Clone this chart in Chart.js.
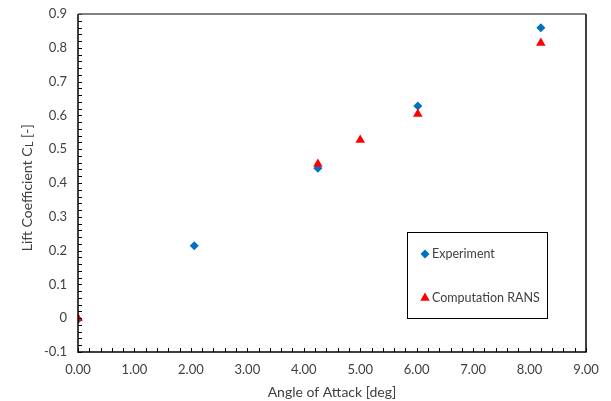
<!DOCTYPE html>
<html>
<head>
<meta charset="utf-8">
<script src="https://cdn.jsdelivr.net/npm/chart.js@4/dist/chart.umd.min.js"></script>
<style>
  html, body { margin: 0; padding: 0; background: #fff; }
  #wrap { width: 611px; height: 401px; }
</style>
</head>
<body>
<div id="wrap"><canvas id="myChart"></canvas></div>
<script>
// data
const expAlpha = [0.00, 2.06, 4.25, 6.02, 8.20];
const expCL = [-0.004, 0.214, 0.444, 0.628, 0.859];
const ransAlpha = [0.00, 4.25, 5.00, 6.02, 8.20];
const ransCL = [0.000, 0.456, 0.527, 0.604, 0.814];

const xTicks = [0, 1, 2, 3, 4, 5, 6, 7, 8, 9];
const xTickLabels = ["0.00", "1.00", "2.00", "3.00", "4.00", "5.00", "6.00", "7.00", "8.00", "9.00"];
const yTicks = [-0.1, 0, 0.1, 0.2, 0.3, 0.4, 0.5, 0.6, 0.7, 0.8, 0.9];
const yTickLabels = ["-0.1", "0", "0.1", "0.2", "0.3", "0.4", "0.5", "0.6", "0.7", "0.8", "0.9"];

const seriesNames = ["Experiment", "Computation RANS"];

const FONT = "Lato, 'Open Sans', sans-serif";
const TXT = "#404040";

const toPoints = (xs, ys) => xs.map((x, i) => ({ x: x, y: ys[i] }));

// box round the plot + inward minor ticks (excel style)
const frame = {
  id: "frame",
  afterDraw(chart) {
    const { ctx, chartArea: a, scales } = chart;
    ctx.save();
    ctx.strokeStyle = "#000";
    ctx.lineWidth = 1;
    // minor ticks
    ctx.beginPath();
    for (let v = -0.1; v <= 0.9001; v += 0.02) {
      const py = Math.round(scales.y.getPixelForValue(v)) + 0.5;
      ctx.moveTo(a.left, py);
      ctx.lineTo(a.left + 4, py);
    }
    for (let v = 0; v <= 9.001; v += 0.2) {
      const px = Math.round(scales.x.getPixelForValue(v)) + 0.5;
      ctx.moveTo(px, a.bottom);
      ctx.lineTo(px, a.bottom - 4);
    }
    ctx.stroke();
    // box
    ctx.lineWidth = 1.5;
    ctx.strokeStyle = "#000";
    ctx.beginPath();
    ctx.moveTo(a.left, a.top);
    ctx.lineTo(a.left, a.bottom);
    ctx.lineTo(a.right, a.bottom);
    ctx.lineTo(a.right, a.top);
    ctx.stroke();
    ctx.strokeStyle = "#595959";
    ctx.beginPath();
    ctx.moveTo(a.left, a.top);
    ctx.lineTo(a.right, a.top);
    ctx.stroke();

    // y title with subscript L
    ctx.fillStyle = TXT;
    ctx.translate(32, 188);
    ctx.rotate(-Math.PI / 2);
    ctx.textBaseline = "alphabetic";
    const big = "14px " + FONT, small = "10.5px " + FONT;
    const p1 = "Lift Coefficient C", p2 = "L", p3 = " [-]";
    ctx.font = big;
    const w1 = ctx.measureText(p1).width, w3 = ctx.measureText(p3).width;
    ctx.font = small;
    const w2 = ctx.measureText(p2).width;
    let x0 = -(w1 + w2 + w3) / 2;
    ctx.font = big;
    ctx.fillText(p1, x0, 0);
    ctx.font = small;
    ctx.fillText(p2, x0 + w1 + 0.5, 1);
    ctx.font = big;
    ctx.fillText(p3, x0 + w1 + w2 + 0.5, 0);
    ctx.restore();
  }
};

// legend box inside the plot
const boxLegend = {
  id: "boxLegend",
  afterDraw(chart) {
    const ctx = chart.ctx;
    ctx.save();
    ctx.fillStyle = "#fff";
    ctx.fillRect(407, 232, 141, 87);
    ctx.strokeStyle = "#000";
    ctx.lineWidth = 1;
    ctx.strokeRect(407.5, 232.5, 140, 86);
    const rows = [
      { ds: chart.data.datasets[1], y: 254 },
      { ds: chart.data.datasets[0], y: 298 }
    ];
    ctx.font = "12.5px " + FONT;
    ctx.textBaseline = "middle";
    rows.forEach(r => {
      ctx.fillStyle = r.ds.backgroundColor;
      ctx.strokeStyle = r.ds.backgroundColor;
      Chart.helpers.drawPoint(ctx, { pointStyle: r.ds.pointStyle, radius: r.ds.pointRadius, rotation: 0, borderWidth: 0 }, 425, r.y);
      ctx.fillStyle = TXT;
      ctx.fillText(r.ds.label, 432, r.y);
    });
    ctx.restore();
  }
};

const ctx = document.getElementById("myChart");

new Chart(ctx, {
  type: "scatter",
  data: {
    datasets: [{
      label: seriesNames[1],
      data: toPoints(ransAlpha, ransCL),
      pointStyle: "triangle",
      pointRadius: 5.5,
      backgroundColor: "#FF0000",
      borderColor: "#FF0000",
      borderWidth: 0
    }, {
      label: seriesNames[0],
      data: toPoints(expAlpha, expCL),
      pointStyle: "rectRot",
      pointRadius: 4.5,
      backgroundColor: "#0070C0",
      borderColor: "#0070C0",
      borderWidth: 0
    }]
  },
  options: {
    responsive: true,
    maintainAspectRatio: false,
    animation: false,
    devicePixelRatio: 1,
    layout: { padding: { left: 0, top: 14, right: 25, bottom: 0 } },
    plugins: {
      legend: { display: false },
      tooltip: { enabled: false }
    },
    scales: {
      x: {
        type: "linear",
        min: 0,
        max: 9,
        afterBuildTicks: s => { s.ticks = xTicks.map(v => ({ value: v })); },
        afterFit: s => { s.height = 49; s.paddingLeft = 0; s.paddingRight = 0; },
        grid: { display: false, drawTicks: false },
        border: { display: false },
        ticks: {
          padding: 10,
          color: TXT,
          font: { family: FONT, size: 13 },
          callback: (v) => xTickLabels[xTicks.indexOf(v)]
        },
        title: {
          display: true,
          text: "Angle of Attack [deg]",
          color: TXT,
          font: { family: FONT, size: 14 },
          padding: { top: 1, bottom: 0 }
        }
      },
      y: {
        type: "linear",
        min: -0.1,
        max: 0.9,
        afterBuildTicks: s => { s.ticks = yTicks.map(v => ({ value: v })); },
        afterFit: s => { s.width = 78; s.paddingTop = 0; s.paddingBottom = 0; },
        grid: { display: false, drawTicks: false },
        border: { display: false },
        ticks: {
          padding: 11,
          color: TXT,
          font: { family: FONT, size: 13 },
          callback: (v) => yTickLabels[yTicks.findIndex(t => Math.abs(t - v) < 1e-9)]
        }
      }
    }
  },
  plugins: [frame, boxLegend]
});
</script>
</body>
</html>
